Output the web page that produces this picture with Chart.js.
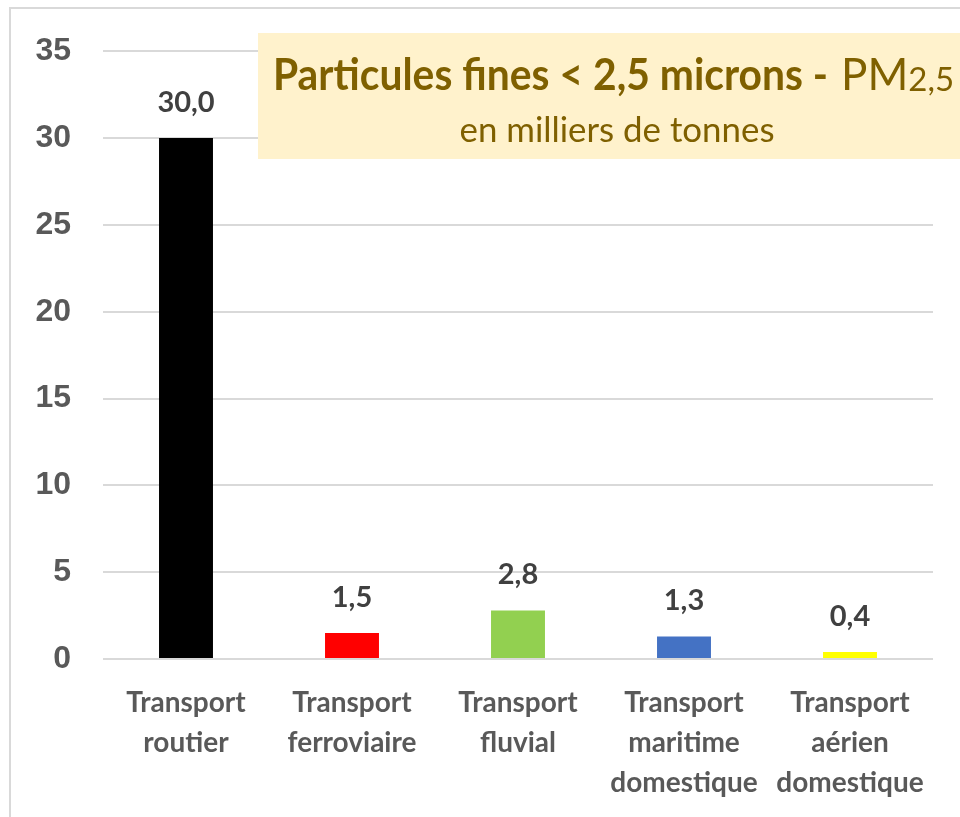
<!DOCTYPE html>
<html>
<head>
<meta charset="utf-8">
<script src="https://cdn.jsdelivr.net/npm/chart.js@4"></script>
<style>
  body { margin: 0; background: #ffffff; }
  #wrap { width: 960px; height: 817px; position: relative; }
</style>
</head>
<body>
<div id="wrap"><canvas id="pmChart" width="960" height="817"></canvas></div>
<script>
/* Data */
const categories = [
  ['Transport', 'routier'],
  ['Transport', 'ferroviaire'],
  ['Transport', 'fluvial'],
  ['Transport', 'maritime', 'domestique'],
  ['Transport', 'aérien', 'domestique']
];
const pm25_values = [30.0, 1.5, 2.8, 1.3, 0.4];
const bar_colors = ['#000000', '#ff0000', '#92d050', '#4472c4', '#ffff00'];
const title_bold = 'Particules fines < 2,5 microns - ';
const title_regular = 'PM';
const title_sub = '2,5';
const subtitle = 'en milliers de tonnes';

// format like 30,0
function frNumber(v) {
  return v.toFixed(1).replace('.', ',');
}

// outer frame (only top & left visible)
const framePlugin = {
  id: 'frame',
  beforeDraw(chart) {
    const ctx = chart.ctx;
    ctx.save();
    ctx.strokeStyle = '#d9d9d9';
    ctx.lineWidth = 2;
    ctx.strokeRect(10, 8, 1100, 1100);
    ctx.restore();
  }
};

// value labels above the bars
const valueLabels = {
  id: 'valueLabels',
  afterDatasetsDraw(chart) {
    const ctx = chart.ctx;
    const meta = chart.getDatasetMeta(0);
    ctx.save();
    ctx.font = 'bold 29px Lato';
    ctx.fillStyle = '#404040';
    ctx.textAlign = 'center';
    ctx.textBaseline = 'alphabetic';
    meta.data.forEach((bar, i) => {
      ctx.fillText(frNumber(pm25_values[i]), bar.x, bar.y - 26);
    });
    ctx.restore();
  }
};

// title box
const titleBox = {
  id: 'titleBox',
  afterDraw(chart) {
    const ctx = chart.ctx;
    ctx.save();
    ctx.fillStyle = '#fff2cc';
    ctx.fillRect(258, 33, 720, 126);
    ctx.fillStyle = '#7f6000';
    ctx.textBaseline = 'alphabetic';
    ctx.textAlign = 'left';

    // first line: bold part squeezed to look like the narrow original font
    ctx.font = 'bold 44px Lato';
    const wBold = ctx.measureText(title_bold).width;
    const sx = 565 / wBold;
    ctx.save();
    ctx.translate(273, 90);
    ctx.scale(sx, 1);
    ctx.fillText(title_bold, 0, 0);
    ctx.restore();
    let x = 273 + 568;
    ctx.font = '44px Lato';
    ctx.fillText(title_regular, x, 90);
    x += ctx.measureText(title_regular).width;
    ctx.font = '33px Lato';
    ctx.fillText(title_sub, x, 91);

    // second line
    ctx.font = '34px Lato';
    const wSub = ctx.measureText(subtitle).width;
    const sx2 = 315 / wSub;
    ctx.save();
    ctx.translate(617 - 315 / 2, 142);
    ctx.scale(sx2, 1);
    ctx.fillText(subtitle, 0, 0);
    ctx.restore();
    ctx.restore();
  }
};

const ctxPm = document.getElementById('pmChart').getContext('2d');

const pmChart = new Chart(ctxPm, {
  type: 'bar',
  data: {
    labels: categories,
    datasets: [{
      data: pm25_values,
      backgroundColor: bar_colors,
      borderWidth: 0,
      barPercentage: 0.325,
      categoryPercentage: 1.0
    }]
  },
  options: {
    responsive: false,
    animation: false,
    layout: {
      padding: { top: 50, right: 27, left: 0, bottom: 0 }
    },
    plugins: {
      legend: { display: false },
      tooltip: { enabled: false }
    },
    scales: {
      x: {
        grid: { display: false },
        border: { display: false },
        ticks: {
          color: '#595959',
          font: { family: 'Lato', weight: 'bold', size: 28, lineHeight: 1.43 },
          padding: 16,
          maxRotation: 0,
          autoSkip: false
        },
        afterFit(scale) { scale.height = 158; }
      },
      y: {
        min: 0,
        max: 35,
        grid: {
          color: '#d9d9d9',
          lineWidth: 2,
          drawTicks: false
        },
        border: { display: false },
        ticks: {
          stepSize: 5,
          color: '#595959',
          font: { family: 'Liberation Sans', weight: 'bold', size: 32 },
          padding: 32
        },
        afterFit(scale) { scale.width = 103; }
      }
    }
  },
  plugins: [framePlugin, valueLabels, titleBox]
});
</script>
</body>
</html>
